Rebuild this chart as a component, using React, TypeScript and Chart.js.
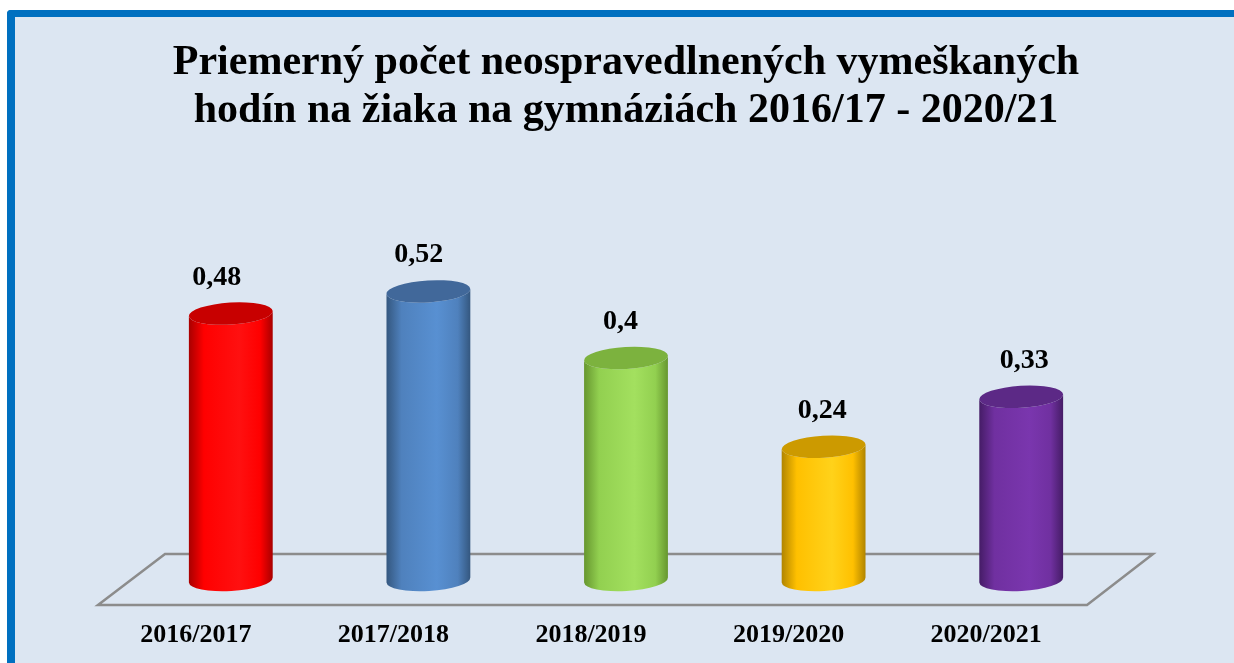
import React, { useEffect, useRef } from "react";
import { Chart, registerables } from "chart.js";

Chart.register(...registerables);

const categories = ["2016/2017", "2017/2018", "2018/2019", "2019/2020", "2020/2021"];
const values = [0.48, 0.52, 0.4, 0.24, 0.33];
const valueLabels = ["0,48", "0,52", "0,4", "0,24", "0,33"];
const titleLines = [
  "Priemerný počet neospravedlnených vymeškaných",
  "hodín na žiaka na gymnáziách 2016/17 - 2020/21",
];

// palette: [edge, mid, light, top]
const palettes = [
  ["#a80000", "#ff0000", "#ff1010", "#c80000"],
  ["#34577f", "#4f81bd", "#5890d2", "#41689a"],
  ["#66962f", "#92d050", "#a3e05f", "#7cb23e"],
  ["#b08400", "#ffc000", "#ffd21a", "#cc9a00"],
  ["#451c66", "#7030a0", "#7a36ae", "#5c2986"],
];

const SERIF = "'Liberation Serif', 'Times New Roman', serif";

const cylinderPlugin = {
  id: "cylinders",
  beforeDatasetsDraw(chart: any) {
    const { ctx, chartArea, scales } = chart;
    const zero = scales.y.getPixelForValue(0);
    const backY = zero - 26;
    const frontY = zero + 25;
    ctx.save();
    ctx.strokeStyle = "#8c8c8c";
    ctx.lineWidth = 2.5;
    ctx.lineJoin = "miter";
    ctx.beginPath();
    ctx.moveTo(chartArea.left + 33, backY);
    ctx.lineTo(chartArea.right + 33, backY);
    ctx.lineTo(chartArea.right - 33, frontY);
    ctx.lineTo(chartArea.left - 34, frontY);
    ctx.closePath();
    ctx.stroke();
    ctx.restore();
  },
  afterDatasetsDraw(chart: any) {
    const { ctx } = chart;
    const meta = chart.getDatasetMeta(0);
    const rot = -0.06;
    const c = Math.cos(rot);
    const s = Math.sin(rot);
    meta.data.forEach((bar: any, i: number) => {
      const p = bar.getProps(["x", "y", "base", "width"], true);
      const x = p.x;
      const yTop = p.y;
      const yBot = p.base;
      const rx = p.width / 2;
      const ry = 11;
      const [edge, mid, light, top] = palettes[i % palettes.length];
      ctx.save();
      // body
      const g = ctx.createLinearGradient(x - rx, 0, x + rx, 0);
      g.addColorStop(0, edge);
      g.addColorStop(0.18, mid);
      g.addColorStop(0.6, light);
      g.addColorStop(0.85, mid);
      g.addColorStop(1, edge);
      ctx.beginPath();
      ctx.moveTo(x - rx * c, yTop - rx * s);
      ctx.lineTo(x - rx * c, yBot - rx * s);
      ctx.ellipse(x, yBot, rx, ry, rot, Math.PI, 0, true);
      ctx.lineTo(x + rx * c, yTop + rx * s);
      ctx.ellipse(x, yTop, rx, ry, rot, 0, Math.PI, false);
      ctx.closePath();
      ctx.fillStyle = g;
      ctx.fill();
      // top
      ctx.beginPath();
      ctx.ellipse(x, yTop, rx, ry, rot, 0, Math.PI * 2);
      ctx.fillStyle = top;
      ctx.fill();
      // label
      ctx.fillStyle = "#000000";
      ctx.font = `bold 28px ${SERIF}`;
      ctx.textAlign = "center";
      ctx.textBaseline = "alphabetic";
      const dx = -14 + (x - 231) * 0.0215;
      ctx.fillText(valueLabels[i], x + dx, yTop - 29);
      ctx.restore();
    });
  },
};

export default function App() {
  const canvasRef = useRef<HTMLCanvasElement | null>(null);

  useEffect(() => {
    const canvas = canvasRef.current;
    if (!canvas) return;
    const chart = new Chart(canvas, {
      type: "bar",
      data: {
        labels: categories,
        datasets: [
          {
            data: values,
            backgroundColor: "rgba(0,0,0,0)",
            borderWidth: 0,
            barPercentage: 0.425,
            categoryPercentage: 1,
          },
        ],
      },
      options: {
        responsive: false,
        maintainAspectRatio: false,
        animation: false,
        layout: { padding: { left: 132, right: 114, top: 0, bottom: 0 } },
        plugins: {
          legend: { display: false },
          tooltip: { enabled: false },
          title: {
            display: true,
            text: titleLines,
            color: "#000000",
            font: { family: SERIF, size: 42, weight: "bold", lineHeight: 48 / 42 },
            padding: { top: 39, bottom: 112 },
          },
        },
        scales: {
          x: {
            grid: { display: false, drawTicks: false },
            border: { display: false },
            ticks: {
              color: "#000000",
              font: { family: SERIF, size: 26, weight: "bold", lineHeight: 1.2 },
              padding: 40,
              labelOffset: -35,
              maxRotation: 0,
              autoSkip: false,
            },
            afterFit: (scale: any) => {
              scale.height = 83;
            },
          },
          y: {
            display: false,
            min: 0,
            max: 0.6,
          },
        },
      },
      plugins: [cylinderPlugin],
    } as any);
    return () => chart.destroy();
  }, []);

  return (
    <div
      style={{
        position: "absolute",
        left: 0,
        top: 0,
        width: 1234,
        height: 663,
        overflow: "hidden",
        background: "#ffffff",
      }}
    >
      <div
        style={{
          position: "absolute",
          left: 7,
          top: 10,
          width: 1260,
          height: 700,
          borderLeft: "8px solid #0070c0",
          borderTop: "7px solid #0070c0",
          borderTopLeftRadius: 4,
          background: "#dce6f2",
        }}
      />
      <canvas
        ref={canvasRef}
        width={1234}
        height={663}
        style={{ position: "absolute", left: 0, top: 0, width: 1234, height: 663 }}
      />
    </div>
  );
}
